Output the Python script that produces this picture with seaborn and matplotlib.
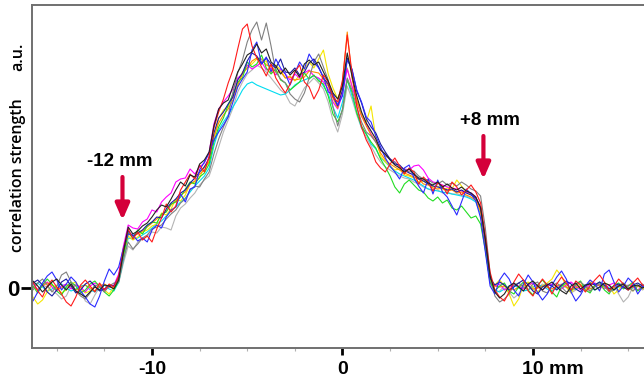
import numpy as np
import pandas as pd
import matplotlib
matplotlib.use("Agg")
import matplotlib.pyplot as plt
import matplotlib.transforms as mtransforms
import seaborn as sns
from matplotlib.ticker import FixedLocator, MultipleLocator

sns.set_theme(style="white")
BOLD_FAMILY = ['Liberation Sans', 'DejaVu Sans']
plt.rcParams['font.family'] = BOLD_FAMILY
plt.rcParams['text.color'] = 'black'

# sample positions (mm), 0.25 mm spacing from -16.5 to 16.0
x_mm = np.linspace(-16.5, 16.0, 131)

red = [1.2, 0.6, -0.3, -0.9, 0.2, 0.8, 0.1, -0.6, -1.4, -1.8,
       -0.9, 0.3, 0.8, 0.2, -0.4, 0.5, -0.2, 0.4, 0.1, 1.2,
       3.8, 5.9, 4.9, 5.6, 4.8, 5.2, 4.6, 5.9, 7.0, 8.4,
       7.6, 8.2, 9.8, 10.6, 11.4, 10.9, 12.3, 11.6, 13.2, 16.0,
       17.6, 18.9, 20.5, 21.8, 23.9, 25.9, 26.4, 24.2, 23.0, 22.1,
       21.2, 22.4, 21.0, 20.2, 19.5, 20.4, 21.6, 22.3, 20.6, 20.1,
       18.9, 19.8, 21.3, 20.6, 19.1, 18.6, 20.8, 25.3, 21.5, 18.2,
       16.1, 14.8, 13.9, 12.6, 12.0, 11.6, 12.4, 13.0, 12.2, 11.4,
       12.0, 11.6, 10.4, 11.1, 10.6, 9.7, 10.5, 10.2, 9.4, 10.6,
       10.1, 9.3, 9.8, 10.3, 9.6, 8.5, 5.2, 1.6, -0.2, -0.9,
       -1.3, -0.4, 0.6, 1.4, 0.8, -0.3, -0.8, 0.2, 0.9, 0.3,
       -0.6, 0.4, 1.1, 0.5, -0.2, 0.7, 0.3, -0.4, 0.2, 0.8,
       1.3, 0.6, -0.3, 0.2, 0.9, 0.4, -0.2, 0.5, 1.0, 0.3,
       0.1]
blue = [-0.6, -1.3, -0.4, 0.5, 1.2, 1.6, 0.8, -0.2, 0.4, 1.1,
        0.6, -0.3, -0.9, -1.6, -1.9, -0.8, 0.7, 1.9, 1.3, 2.1,
        4.0, 5.4, 5.3, 4.7, 5.0, 4.6, 5.8, 6.3, 6.0, 7.1,
        7.8, 8.1, 9.4, 8.6, 9.9, 10.1, 11.8, 12.6, 13.5, 14.8,
        15.6, 16.3, 17.1, 18.6, 20.1, 20.9, 21.6, 23.8, 24.6, 22.4,
        23.1, 21.6, 22.9, 22.0, 21.4, 20.3, 21.5, 22.6, 21.9, 23.4,
        22.6, 22.0, 21.1, 19.6, 19.4, 18.3, 19.2, 22.8, 21.9, 19.8,
        18.6, 17.1, 16.6, 15.2, 14.1, 13.0, 12.2, 11.6, 10.9, 12.0,
        12.3, 11.0, 10.2, 9.5, 10.9, 9.4, 10.8, 9.6, 9.1, 8.2,
        7.3, 8.6, 9.9, 9.4, 8.7, 7.0, 3.6, 0.2, -0.6, 0.8,
        1.5, 0.9, -0.2, -0.8, 0.4, 1.3, 0.6, -0.5, -1.2, -0.6,
        0.3, 1.1, 1.7, 0.9, -0.4, -1.3, -0.7, 0.2, 0.8, 0.4,
        -0.3, 1.4, 1.8, 0.6, -0.4, 0.2, 1.0, 0.5, -0.6, 0.1,
        0.6]
green = [0.8, 0.2, -0.5, 0.3, 0.9, 0.4, -0.3, -0.7, 0.1, 0.6,
         0.2, -0.5, -0.2, 0.4, 0.7, 0.1, -0.4, -0.8, -0.2, 0.7,
         3.2, 5.5, 5.0, 5.8, 5.4, 6.2, 6.6, 6.5, 7.4, 7.6,
         8.4, 8.6, 9.1, 9.9, 10.6, 10.4, 11.1, 11.5, 12.4, 14.6,
         16.1, 17.0, 18.3, 19.4, 20.6, 21.0, 22.6, 22.1, 22.4, 23.3,
         22.0, 21.4, 21.9, 20.8, 20.5, 19.8, 20.2, 20.6, 21.5, 20.9,
         21.3, 20.7, 20.4, 19.2, 17.4, 16.6, 17.8, 20.8, 19.6, 17.5,
         16.2, 15.4, 14.6, 14.0, 12.9, 12.1, 11.2, 10.1, 9.5, 10.4,
         10.8, 10.3, 9.8, 9.6, 9.0, 8.7, 9.1, 8.5, 8.8, 8.0,
         7.8, 8.2, 7.6, 7.0, 7.2, 6.4, 3.8, 0.6, -0.3, 0.2,
         0.5, -0.3, -0.6, 0.1, 0.6, -0.2, -0.7, 0.3, 0.8, 0.2,
         -0.4, -0.9, 0.2, 0.5, -0.3, 0.4, 0.7, -0.2, -0.5, 0.3,
         0.6, -0.2, -0.6, 0.3, 0.5, -0.1, 0.2, 0.6, -0.3, 0.1,
         0.3]
black = [0.3, 0.7, 0.2, -0.4, 0.1, 0.6, 0.9, 0.3, -0.2, 0.4,
         -0.3, -0.6, -0.9, -0.4, 0.1, -0.2, 0.3, 0.2, -0.1, 0.8,
         3.6, 6.1, 5.4, 5.7, 6.2, 6.5, 7.1, 7.8, 8.3, 8.1,
         8.9, 9.8, 10.6, 10.2, 11.3, 11.1, 12.4, 12.8, 13.6, 16.2,
         17.9, 18.5, 18.8, 20.2, 21.6, 22.4, 23.3, 23.6, 24.4, 23.5,
         23.9, 22.6, 22.2, 21.4, 22.0, 21.3, 21.8, 21.1, 22.4, 22.8,
         22.3, 22.6, 21.6, 20.7, 19.5, 18.9, 20.2, 23.5, 21.2, 19.2,
         17.6, 16.5, 15.7, 14.9, 13.8, 13.4, 12.8, 12.3, 12.0, 11.6,
         11.9, 11.4, 11.0, 10.9, 10.5, 10.3, 10.6, 10.1, 10.4, 10.0,
         9.8, 10.1, 9.7, 9.5, 9.1, 8.0, 4.9, 1.2, -0.4, -1.0,
         -0.6, 0.2, 0.5, 0.1, -0.3, 0.4, 0.7, 0.2, -0.2, 0.3,
         0.6, 0.1, -0.3, -0.6, 0.2, 0.5, -0.1, 0.3, 0.4, -0.2,
         0.1, 0.5, 0.3, -0.2, 0.2, 0.4, -0.1, 0.2, 0.3, 0.0,
         0.2]
gray = [0.4, -0.2, 0.5, 0.9, 0.3, -0.4, 0.2, 1.3, 1.6, 0.6,
        -0.3, -0.8, -1.1, -0.5, 0.3, 0.1, -0.4, 0.2, 0.5, 0.6,
        2.9, 4.6, 3.9, 4.4, 5.0, 5.3, 5.9, 6.1, 6.3, 6.9,
        7.4, 7.8, 8.5, 8.9, 9.8, 10.2, 10.1, 10.9, 11.6, 13.4,
        14.9, 16.1, 17.2, 19.6, 21.5, 22.8, 24.6, 25.8, 26.6, 24.8,
        26.5, 24.2, 21.6, 20.9, 20.5, 19.4, 18.9, 18.6, 19.5, 21.0,
        22.6, 23.4, 22.1, 20.8, 18.1, 16.2, 17.9, 21.0, 19.8, 18.1,
        16.6, 15.6, 15.2, 14.6, 13.9, 13.2, 12.9, 12.6, 12.1, 11.9,
        11.6, 11.7, 11.2, 10.9, 10.8, 10.5, 10.4, 10.7, 10.3, 10.5,
        10.2, 10.6, 10.3, 9.9, 9.7, 9.2, 6.0, 1.4, -0.8, -1.4,
        -1.1, -0.6, 0.3, 0.5, 0.1, -0.2, 0.4, 0.6, -0.3, -0.5,
        0.2, 0.5, 0.1, -0.4, -0.2, 0.3, 0.6, 0.2, -0.3, 0.1,
        0.4, 0.2, -0.4, -0.2, 0.3, 0.5, 0.1, -0.3, 0.2, 0.4,
        -0.1]
yellow = [-0.3, -0.9, -1.6, -1.2, -0.4, 0.3, 0.1, -0.5, -0.2, 0.4,
          0.6, -0.1, -0.5, -0.3, 0.2, 0.4, -0.2, -0.6, 0.1, 0.9,
          3.3, 5.2, 4.8, 5.1, 5.6, 5.8, 6.2, 6.4, 7.5, 7.3,
          7.9, 8.9, 8.7, 9.3, 10.4, 10.6, 11.0, 12.2, 12.5, 15.0,
          16.9, 17.8, 18.1, 19.3, 20.2, 21.6, 22.0, 22.4, 22.9, 22.6,
          22.7, 21.5, 22.3, 21.8, 21.0, 21.2, 20.7, 21.3, 21.9, 22.6,
          22.0, 22.9, 23.8, 21.4, 20.0, 18.9, 20.3, 22.0, 20.1, 18.9,
          17.4, 16.6, 18.2, 15.0, 13.2, 12.6, 12.2, 11.8, 11.9, 11.3,
          11.2, 11.0, 10.6, 10.7, 10.4, 10.1, 10.2, 9.8, 10.0, 9.9,
          10.8, 10.2, 9.6, 9.4, 9.0, 7.6, 4.3, 0.7, 0.3, 0.8,
          0.2, -0.6, -1.8, -1.1, 0.3, 0.6, 0.1, -0.4, 0.2, 0.5,
          0.9, 1.8, 1.2, 0.1, -0.5, 0.2, 0.4, -0.3, 0.6, 0.3,
          -0.2, 0.5, 0.3, -0.6, -0.2, 0.4, 0.1, -0.3, 0.2, -0.1,
          0.4]
magenta = [0.2, 0.5, -0.2, 0.3, 0.6, 0.1, -0.3, 0.2, 0.4, -0.1,
           0.3, 0.1, -0.4, 0.2, 0.5, 0.3, -0.2, 0.1, 0.3, 1.4,
           4.2, 6.3, 6.0, 5.9, 6.6, 6.9, 7.8, 7.6, 8.6, 9.1,
           9.5, 10.6, 10.9, 11.0, 11.9, 11.4, 12.1, 12.5, 13.6, 16.4,
           17.9, 18.6, 19.2, 19.9, 21.0, 21.4, 22.3, 21.9, 22.2, 22.6,
           21.8, 22.0, 21.3, 21.9, 21.4, 20.8, 21.4, 21.0, 21.5, 21.8,
           21.2, 21.0, 20.6, 19.9, 18.6, 17.9, 19.4, 21.9, 20.2, 18.6,
           17.2, 16.4, 15.4, 14.6, 13.8, 13.3, 12.9, 12.6, 12.1, 11.9,
           11.8, 12.2, 12.3, 11.8, 11.0, 10.6, 10.5, 10.3, 10.1, 10.0,
           9.9, 9.7, 9.6, 9.5, 9.1, 7.9, 4.1, 0.5, 0.2, 0.4,
           -0.2, 0.1, 0.4, 0.2, -0.1, 0.3, 0.5, 0.1, -0.2, 0.2,
           0.4, 0.2, -0.1, 0.3, 0.6, 0.2, -0.2, 0.1, 0.3, 0.5,
           0.2, -0.1, 0.3, 0.5, 0.2, 0.0, 0.3, 0.1, -0.2, 0.2,
           0.3]
cyan = [-0.2, 0.3, 0.5, 0.1, -0.3, -0.1, 0.2, 0.4, 0.0, -0.3,
        -0.1, 0.2, 0.3, -0.2, -0.4, 0.1, 0.3, -0.1, -0.3, 0.6,
        2.8, 5.0, 4.9, 5.0, 5.3, 5.6, 6.0, 6.4, 6.7, 7.2,
        7.7, 8.1, 8.6, 9.0, 9.6, 10.2, 10.7, 11.2, 12.0, 14.2,
        15.8, 16.6, 17.3, 18.1, 18.9, 19.8, 20.4, 20.6, 20.3, 20.1,
        19.9, 19.7, 19.5, 19.3, 19.4, 19.8, 20.3, 20.6, 20.8, 21.0,
        21.2, 20.9, 20.2, 19.4, 18.1, 17.0, 18.6, 20.9, 19.2, 17.6,
        16.0, 15.4, 14.4, 13.9, 13.0, 12.6, 12.1, 11.7, 11.4, 11.2,
        11.0, 10.8, 10.5, 10.2, 9.9, 9.8, 9.7, 9.6, 9.5, 9.4,
        9.3, 9.2, 9.1, 8.9, 8.6, 7.4, 4.0, 0.6, -0.2, -0.4,
        -0.1, 0.2, 0.3, 0.0, -0.3, -0.2, 0.1, 0.3, 0.2, -0.1,
        -0.3, 0.0, 0.2, 0.1, -0.2, -0.1, 0.2, 0.3, 0.0, -0.2,
        0.1, 0.3, 0.0, -0.2, 0.1, 0.2, -0.1, 0.0, 0.2, 0.1,
        0.0]
navy = [0.1, 0.5, 0.8, 0.3, -0.4, -0.8, -0.2, 0.6, 0.9, 0.2,
        -0.5, -0.2, 0.4, 0.7, 0.2, -0.3, -0.1, 0.3, 0.2, 1.1,
        3.7, 5.7, 5.2, 5.5, 5.8, 6.3, 6.6, 7.1, 7.0, 7.9,
        8.5, 8.9, 9.5, 9.8, 10.5, 11.0, 11.6, 12.1, 13.0, 15.5,
        17.0, 17.6, 18.4, 19.1, 20.8, 21.5, 22.7, 23.5, 23.2, 22.4,
        23.0, 22.4, 22.0, 22.9, 21.6, 21.5, 22.0, 21.3, 21.6, 22.5,
        22.9, 22.1, 21.0, 20.4, 19.2, 18.2, 19.8, 23.0, 21.8, 19.7,
        18.5, 16.9, 16.1, 15.5, 14.4, 13.6, 12.9, 12.4, 12.3, 11.8,
        11.5, 11.3, 10.9, 10.7, 10.4, 10.2, 10.1, 10.0, 9.8, 9.9,
        9.6, 9.8, 9.5, 9.3, 9.0, 8.1, 4.7, 1.0, 0.3, 0.6,
        0.3, -0.2, 0.1, 0.5, 0.8, 0.3, -0.3, -0.6, 0.1, 0.4,
        0.2, -0.2, 0.3, 0.7, 0.4, -0.1, -0.4, 0.2, 0.5, 0.3,
        0.6, 0.3, -0.1, 0.2, 0.4, 0.1, -0.2, 0.3, 0.5, 0.2,
        0.4]
orange = [0.4, 0.1, -0.2, 0.2, 0.5, 0.3, -0.1, 0.0, 0.3, 0.2,
          -0.2, 0.1, 0.3, 0.0, -0.3, 0.2, 0.4, 0.1, 0.0, 0.9,
          3.4, 5.5, 5.2, 5.4, 5.7, 6.1, 6.5, 6.9, 7.3, 7.7,
          8.3, 8.7, 9.3, 9.6, 10.4, 10.7, 11.4, 11.8, 12.7, 15.1,
          16.5, 17.3, 17.9, 18.8, 20.3, 21.4, 22.0, 22.7, 23.0, 22.9,
          22.3, 22.2, 21.6, 21.6, 21.0, 21.1, 20.8, 20.9, 21.1, 21.7,
          21.6, 21.5, 20.9, 20.2, 19.0, 18.0, 20.6, 25.6, 21.0, 18.7,
          17.2, 16.2, 15.3, 14.6, 13.5, 12.8, 12.4, 12.1, 11.8, 11.5,
          11.3, 11.1, 10.9, 10.4, 10.3, 10.0, 9.9, 10.0, 9.7, 9.8,
          9.5, 9.6, 9.3, 9.1, 8.8, 7.7, 4.4, 0.8, 0.2, 0.1,
          0.2, 0.0, -0.2, 0.1, 0.3, 0.2, -0.1, 0.0, 0.2, 0.1,
          -0.1, 0.2, 0.3, 0.1, -0.2, 0.0, 0.2, 0.1, -0.1, 0.2,
          0.3, 0.1, -0.1, 0.0, 0.2, 0.1, -0.2, 0.1, 0.2, 0.0,
          0.1]
silver = [0.5, 0.2, -0.1, 0.3, 0.1, -0.3, -0.6, -1.1, -0.8, 0.2,
          0.4, -0.2, -1.3, -1.6, -0.7, 0.1, -0.3, 0.2, -0.1, 0.5,
          2.5, 4.2, 3.8, 4.6, 4.9, 5.2, 5.6, 5.5, 6.1, 6.0,
          5.8, 7.2, 8.0, 8.4, 9.0, 9.5, 10.3, 10.8, 11.2, 12.6,
          14.1, 15.6, 16.8, 18.0, 19.6, 20.6, 21.4, 21.8, 22.3, 22.0,
          21.6, 21.0, 20.4, 19.8, 19.4, 18.5, 18.2, 19.1, 20.0, 20.5,
          21.0, 20.5, 19.9, 18.6, 16.8, 15.6, 17.4, 20.2, 18.9, 17.3,
          16.0, 15.1, 14.2, 13.3, 12.6, 12.1, 11.8, 11.5, 11.2, 11.0,
          10.9, 10.6, 10.4, 10.1, 9.9, 9.7, 9.8, 9.5, 9.6, 9.4,
          9.4, 9.3, 9.2, 9.0, 8.7, 7.5, 4.2, 0.5, -0.5, -0.3,
          0.2, -0.4, -1.0, -0.6, 0.1, 0.3, -0.2, 0.0, 0.4, 0.1,
          -0.3, 0.2, 0.4, 0.1, -0.5, -0.2, 0.3, 0.0, -0.4, 0.2,
          0.5, 0.1, -0.3, 0.2, -0.6, -1.4, -0.9, 0.1, 0.3, -0.2,
          0.1]

series = {
    'silver': silver, 'cyan': cyan, 'yellow': yellow, 'magenta': magenta,
    'orange': orange, 'green': green, 'gray': gray, 'navy': navy,
    'blue': blue, 'red': red, 'black': black,
}
colors = {
    'silver': '#b4b4b4', 'cyan': '#00dcf0', 'yellow': '#f5e600', 'magenta': '#ff00ff',
    'orange': '#ff8c00', 'green': '#22dd22', 'gray': '#808080', 'navy': '#1a1aa0',
    'blue': '#2b2bff', 'red': '#ff1a1a', 'black': '#222222',
}

xtick_pos = [-10, 0, 10]
xtick_labels = ['-10', '0', '10 mm']
ann_texts = ['-12 mm', '+8 mm']
ann_x = [-11.55, 7.4]
ann_tip = [6.8, 10.9]

frames = [pd.DataFrame({'x': x_mm, 'v': vals, 'series': name}) for name, vals in series.items()]
df = pd.concat(frames, ignore_index=True)

W, H = 644, 382
fig = plt.figure(figsize=(W / 100, H / 100), dpi=100)
ax = fig.add_axes([32 / W, 34 / H, 612 / W, 342.5 / H])

sns.lineplot(data=df, x='x', y='v', hue='series', palette=colors, estimator=None,
             units='series', legend=False, lw=0.8, ax=ax, sort=True)

ax.set_xlim(-16.30, 15.83)
ax.set_ylim(-6.0, 28.25)
ax.set_xlabel('')
ax.set_ylabel('')

for s in ['left', 'bottom', 'top']:
    ax.spines[s].set_color('#707070')
    ax.spines[s].set_linewidth(1.4)
ax.spines['right'].set_visible(False)

ax.xaxis.set_major_locator(FixedLocator(xtick_pos))
ax.set_xticklabels(xtick_labels)
ax.xaxis.set_minor_locator(MultipleLocator(2.5))
ax.set_yticks([0])
ax.set_yticklabels(['0'])
ax.tick_params(axis='x', which='major', direction='out', length=5, width=2, color='black',
               labelsize=14, pad=4, bottom=True)
ax.tick_params(axis='x', which='minor', direction='out', length=2.5, width=0.8, color='#b0b0b0',
               bottom=True)
ax.tick_params(axis='y', which='major', direction='out', length=8, width=2, color='black',
               labelsize=16, pad=1, left=True)
for lab in ax.get_xticklabels() + ax.get_yticklabels():
    lab.set_fontweight('bold')
    lab.set_color('black')

# "10 mm": number centred on its tick, unit trailing to the right
last = ax.get_xticklabels()[-1]
last.set_horizontalalignment('left')
last.set_transform(last.get_transform() + mtransforms.ScaledTranslation(-0.105, 0, fig.dpi_scale_trans))

fig.text(18 / W, 1 - 175 / H, 'correlation strength', rotation=90, ha='center', va='center',
         fontsize=11.5, fontweight='semibold', family=['Open Sans', 'DejaVu Sans'], color='black')
fig.text(18 / W, 1 - 57 / H, 'a.u.', rotation=90, ha='center', va='center',
         fontsize=11.5, fontweight='semibold', family=['Open Sans', 'DejaVu Sans'], color='black')

arrow_color = '#d4003a'
for xa, yt in zip(ann_x, ann_tip):
    ax.annotate('', xy=(xa, yt), xytext=(xa, yt + 4.3),
                arrowprops=dict(arrowstyle='-|>,head_width=0.35,head_length=0.8',
                                color=arrow_color, lw=3, shrinkA=0, shrinkB=0))
ax.text(-11.7, 12.6, ann_texts[0], ha='center', va='center', fontsize=13.5,
        fontweight='bold', color='black')
ax.text(7.75, 16.7, ann_texts[1], ha='center', va='center', fontsize=13.5,
        fontweight='bold', color='black')

fig.savefig('out.png', dpi=100, facecolor='white')
